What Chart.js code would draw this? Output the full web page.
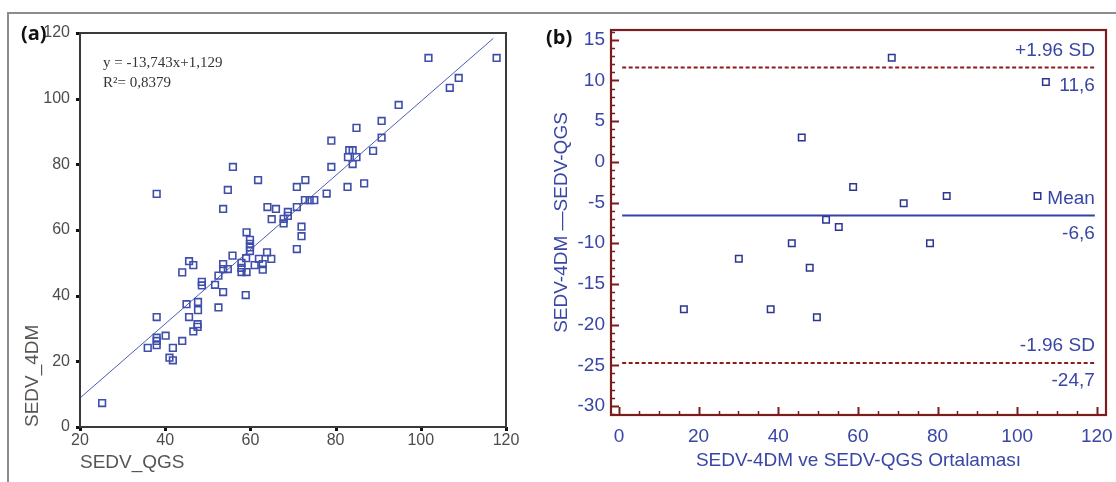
<!DOCTYPE html>
<html>
<head>
<meta charset="utf-8">
<script src="https://cdn.jsdelivr.net/npm/chart.js@4.4.1/dist/chart.umd.min.js"></script>
<style>
html, body { margin: 0; padding: 0; background: #fff; }
#wrap { position: relative; width: 1116px; height: 482px; overflow: hidden; }
#frame { position: absolute; left: 7px; top: 12px; width: 1200px; height: 600px;
         border-top: 2px solid #8c8c8c; border-left: 2px solid #8c8c8c; }
#left { position: absolute; left: 0; top: 0; }
#right { position: absolute; left: 530px; top: 0; }
.tag { position: absolute; font: bold 20px 'Open Sans', sans-serif; line-height: 28px; color: #111; }
</style>
</head>
<body>
<div id="wrap">
  <div id="frame"></div>
  <canvas id="left" width="540" height="482"></canvas>
  <canvas id="right" width="586" height="482"></canvas>
  <div class="tag" style="left:21px;top:19px">(a)</div>
  <div class="tag" style="left:546px;top:23px">(b)</div>
</div>
<script>
//-- (a) SEDV_QGS vs SEDV_4DM //
const qgs = [25.2, 35.9, 38.0, 38.0, 38.0, 38.0, 38.0, 40.1, 41.0, 41.8, 41.8, 44.0, 44.0, 45.0, 45.6, 45.6,
    46.6, 46.6, 47.6, 47.6, 47.7, 47.7, 48.6, 48.6, 51.7, 52.5, 52.5, 53.6, 53.6, 53.6, 54.7, 55.8,
    57.9, 57.9, 57.9, 59.1, 59.0, 58.9, 59.1, 59.9, 59.9, 59.9, 59.9, 61.0, 62.0, 62.9, 62.9, 63.9,
    64.9, 53.6, 54.7, 55.9, 61.8, 64.0, 66.0, 65.0, 67.8, 67.8, 68.8, 68.8, 70.9, 70.9, 72.0, 72.0,
    70.9, 72.9, 72.8, 73.9, 75.0, 77.9, 79.0, 79.0, 82.8, 86.7, 83.2, 84.0, 82.9, 84.9, 84.0, 88.8,
    84.9, 90.8, 90.8, 94.8, 101.8, 106.8, 108.9, 117.8];
const dm4 = [7.3, 24.1, 33.5, 27.2, 26.2, 24.9, 71.0, 27.8, 21.1, 20.3, 24.1, 26.2, 47.1, 37.4, 33.5, 50.5,
    49.3, 29.1, 31.3, 30.5, 38.1, 35.6, 44.2, 43.1, 43.3, 36.4, 46.1, 41.1, 49.6, 48.1, 48.1, 52.2,
    50.0, 48.5, 47.2, 47.2, 51.4, 40.2, 59.3, 57.0, 55.8, 54.7, 53.6, 49.3, 51.2, 49.6, 47.9, 53.2,
    51.2, 66.4, 72.2, 79.2, 75.2, 67.0, 66.4, 63.3, 63.4, 62.0, 65.5, 64.3, 67.0, 73.1, 61.0, 58.1,
    54.2, 75.2, 69.1, 69.1, 69.1, 71.1, 79.2, 87.2, 73.1, 74.2, 84.3, 84.3, 82.2, 82.2, 80.1, 84.1,
    91.1, 88.1, 93.2, 98.1, 112.4, 103.3, 106.3, 112.4];
// regression line as printed: slope 1,129, intercept -13,743
const fitSlope = 1.129;
const fitIntercept = -13.743;
const fitX = [20, 117];
const fitLabels = ['y = -13,743x+1,129', 'R\u00B2= 0,8379'];

//-- (b) Bland-Altman //
const avgVals = [16.3, 30.1, 38.1, 43.4, 45.9, 47.9, 49.7, 52.0, 55.2, 58.8, 68.5, 71.5, 78.1, 82.3, 105.1, 107.2];
const diffVals = [-18.1, -11.9, -18.1, -10.0, 3.0, -13.0, -19.1, -7.1, -8.0, -3.1, 12.8, -5.1, -10.0, -4.2, -4.2, 9.8];
const loaValues = [11.6, -6.6, -24.7];
const loaNames = ['+1.96 SD', 'Mean', '-1.96 SD'];
const loaTexts = ['11,6', '-6,6', '-24,7'];
const loaX = [0.8, 119.5];

const sans = "'Liberation Sans', Arial, sans-serif";
const blue = '#3a46a6';
const darkRed = '#7c1d1d';

Chart.defaults.font.family = sans;
Chart.defaults.animation = false;

// box around plot area, black tick blocks, fit text
const leftDecor = {
    id: 'leftDecor',
    afterDraw(chart) {
        const { ctx, chartArea: a, scales: { x, y } } = chart;
        ctx.save();
        ctx.fillStyle = '#111';
        y.ticks.forEach(t => {
            const py = Math.round(y.getPixelForValue(t.value));
            ctx.fillRect(a.left - 4, py - 1, 4, 3);
        });
        x.ticks.forEach(t => {
            const px = Math.round(x.getPixelForValue(t.value));
            ctx.fillRect(px - 1, a.bottom, 3, 4);
        });
        ctx.strokeStyle = '#3a3a3a';
        ctx.lineWidth = 2;
        ctx.strokeRect(a.left, a.top, a.right - a.left, a.bottom - a.top);
        ctx.fillStyle = '#3a3430';
        ctx.font = "15px 'Liberation Serif', 'Times New Roman', serif";
        ctx.textBaseline = 'middle';
        ctx.fillText(fitLabels[0], a.left + 23, a.top + 30);
        ctx.fillText(fitLabels[1], a.left + 23, a.top + 50);
        ctx.restore();
    }
};

new Chart(document.getElementById('left'), {
    type: 'scatter',
    data: {
        datasets: [
            {
                data: qgs.map((x, i) => ({ x, y: dm4[i] })),
                pointStyle: 'rect',
                pointRadius: 4.7,
                borderWidth: 1.6,
                borderColor: '#3f4eaa',
                backgroundColor: 'rgba(0,0,0,0)'
            },
            {
                data: fitX.map(x => ({ x, y: fitSlope * x + fitIntercept })),
                showLine: true,
                pointRadius: 0,
                borderWidth: 1,
                borderColor: '#4d5cb4'
            }
        ]
    },
    options: {
        responsive: false,
        layout: { padding: { left: 0, top: 33, right: 34, bottom: 0 } },
        plugins: { legend: { display: false }, tooltip: { enabled: false } },
        scales: {
            x: {
                min: 20, max: 120,
                ticks: { stepSize: 20, color: '#4c4c4c', font: { size: 16 }, padding: 0 },
                grid: { display: false, drawTicks: true, tickLength: 4 },
                border: { display: false },
                title: { display: true, text: 'SEDV_QGS', align: 'start', color: '#555',
                         font: { size: 19 }, padding: { top: 0, bottom: 8 } },
                afterFit: s => { s.height = 55; s.paddingLeft = 0; s.paddingRight = 0; }
            },
            y: {
                min: 0, max: 120,
                ticks: { stepSize: 20, color: '#4c4c4c', font: { size: 16 }, padding: 6 },
                grid: { display: false, drawTicks: true, tickLength: 4 },
                border: { display: false },
                title: { display: true, text: 'SEDV_4DM', align: 'start', color: '#5a5450',
                         font: { size: 19 }, padding: { top: 21, bottom: 0 } },
                afterFit: s => { s.width = 80; s.paddingTop = 0; s.paddingBottom = 0; }
            }
        }
    },
    plugins: [leftDecor]
});

// frame, inward ticks and limit labels
const rightDecor = {
    id: 'rightDecor',
    afterDraw(chart) {
        const { ctx, chartArea: a, scales: { x, y } } = chart;
        ctx.save();
        ctx.strokeStyle = darkRed;
        for (let v = -31; v <= 16; v++) {
            const py = Math.round(y.getPixelForValue(v)) + 0.5;
            const len = v % 5 === 0 ? 8 : 4;
            ctx.lineWidth = v % 5 === 0 ? 2 : 1.5;
            ctx.beginPath();
            ctx.moveTo(a.left, py);
            ctx.lineTo(a.left + len, py);
            ctx.stroke();
        }
        for (let v = 0; v <= 120; v += 5) {
            const px = Math.round(x.getPixelForValue(v)) + 0.5;
            const len = v % 20 === 0 ? 8 : 4;
            ctx.lineWidth = v % 20 === 0 ? 2 : 1.5;
            ctx.beginPath();
            ctx.moveTo(px, a.bottom);
            ctx.lineTo(px, a.bottom - len);
            ctx.stroke();
        }
        ctx.lineWidth = 2.2;
        ctx.strokeRect(a.left, a.top, a.right - a.left, a.bottom - a.top);

        ctx.fillStyle = blue;
        ctx.font = '19px ' + sans;
        ctx.textAlign = 'right';
        ctx.textBaseline = 'middle';
        const tx = x.getPixelForValue(loaX[1]);
        loaValues.forEach((v, i) => {
            const py = y.getPixelForValue(v);
            ctx.fillText(loaNames[i], tx, py - 17);
            ctx.fillText(loaTexts[i], tx, py + 18);
        });
        ctx.restore();
    }
};

const lineSet = (v, color, dash) => ({
    data: loaX.map(x => ({ x, y: v })),
    showLine: true,
    pointRadius: 0,
    borderWidth: 2,
    borderColor: color,
    borderDash: dash
});

new Chart(document.getElementById('right'), {
    type: 'scatter',
    data: {
        datasets: [
            lineSet(loaValues[0], '#8a1c1c', [4, 2.5]),
            lineSet(loaValues[1], '#3440a4', []),
            lineSet(loaValues[2], '#8a1c1c', [4, 2.5]),
            {
                data: avgVals.map((x, i) => ({ x, y: diffVals[i] })),
                pointStyle: 'rect',
                pointRadius: 4.6,
                borderWidth: 1.5,
                borderColor: '#2c3592',
                backgroundColor: 'rgba(0,0,0,0)'
            }
        ]
    },
    options: {
        responsive: false,
        layout: { padding: { left: 0, top: 30, right: 10, bottom: 0 } },
        plugins: { legend: { display: false }, tooltip: { enabled: false } },
        scales: {
            x: {
                min: -2, max: 122.3,
                afterBuildTicks: s => { s.ticks = [0, 20, 40, 60, 80, 100, 120].map(value => ({ value })); },
                ticks: { color: blue, font: { size: 19 }, padding: 10, autoSkip: false, maxRotation: 0 },
                grid: { display: false, drawTicks: false },
                border: { display: false },
                title: { display: true, text: 'SEDV-4DM ve SEDV-QGS Ortalaması', color: blue,
                         font: { size: 19 }, padding: { top: 0, bottom: 10 } },
                afterFit: s => { s.height = 67; s.paddingLeft = 0; s.paddingRight = 0; }
            },
            y: {
                min: -31.1, max: 16.2,
                afterBuildTicks: s => { s.ticks = [-30, -25, -20, -15, -10, -5, 0, 5, 10, 15].map(value => ({ value })); },
                ticks: { color: blue, font: { size: 19 }, padding: 6, autoSkip: false },
                grid: { display: false, drawTicks: false },
                border: { display: false },
                title: { display: true, text: 'SEDV-4DM \u2014SEDV-QGS', color: blue,
                         font: { size: 19 }, padding: { top: 20, bottom: 0 } },
                afterFit: s => { s.width = 81; s.paddingTop = 0; s.paddingBottom = 0; }
            }
        }
    },
    plugins: [rightDecor]
});
</script>
</body>
</html>
